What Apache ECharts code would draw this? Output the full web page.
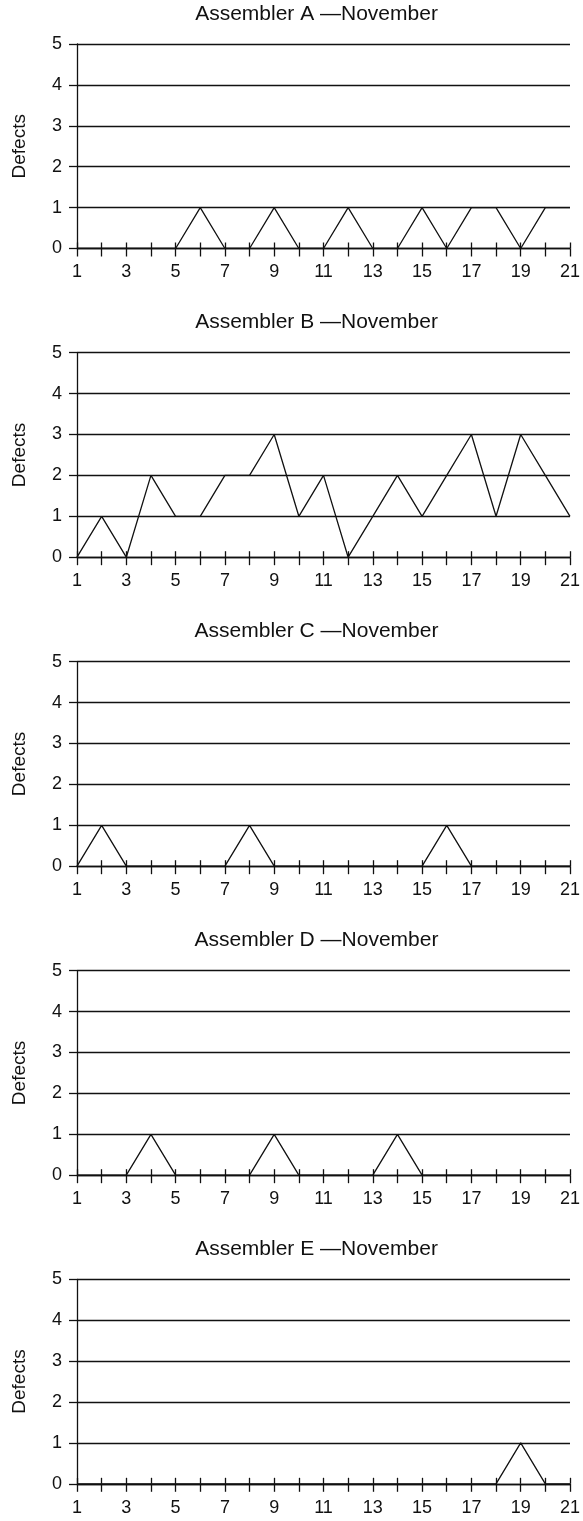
<!DOCTYPE html>
<html>
<head>
<meta charset="utf-8">
<script src="https://cdn.jsdelivr.net/npm/echarts@6/dist/echarts.min.js"></script>
<style>
html,body{margin:0;padding:0;background:#fff;}
#chart{width:583px;height:1521px;}
</style>
</head>
<body>
<div id="chart"></div>
<script>
const days = [1,2,3,4,5,6,7,8,9,10,11,12,13,14,15,16,17,18,19,20,21];
const titles = ["Assembler A \u2014November","Assembler B \u2014November","Assembler C \u2014November","Assembler D \u2014November","Assembler E \u2014November"];
const defectsA = [0,0,0,0,0,1,0,0,1,0,0,1,0,0,1,0,1,1,0,1,1];
const defectsB = [0,1,0,2,1,1,2,2,3,1,2,0,1,2,1,2,3,1,3,2,1];
const defectsC = [0,1,0,0,0,0,0,1,0,0,0,0,0,0,0,1,0,0,0,0,0];
const defectsD = [0,0,0,1,0,0,0,0,1,0,0,0,0,1,0,0,0,0,0,0,0];
const defectsE = [0,0,0,0,0,0,0,0,0,0,0,0,0,0,0,0,0,0,1,0,0];
const yTicks = [0,1,2,3,4,5];
const allSeries = [defectsA,defectsB,defectsC,defectsD,defectsE];

const FONT = '"Liberation Sans", Arial, Helvetica, sans-serif';
const INK = '#111';
const gridTops = [44, 352.7, 661.7, 970.7, 1279.3];
const plotH = 204.5;
const plotL = 77, plotR = 10;

const option = {
  animation:false,
  backgroundColor:'#fff',
  title: titles.map((t,i)=>({
    text:t, left:316.5, top:gridTops[i]-40.5, textAlign:'center', padding:0,
    textStyle:{fontFamily:FONT,fontSize:21,fontWeight:'normal',color:INK}
  })),
  grid: gridTops.map(t=>({left:plotL,right:plotR,top:t,height:plotH,containLabel:false})),
  xAxis: [],
  yAxis: [],
  series: []
};

gridTops.forEach((t,i)=>{
  option.xAxis.push({
    type:'value', gridIndex:i, position:'bottom', min:days[0], max:days[days.length-1], interval:1,
    axisLine:{show:true,onZero:false,lineStyle:{color:INK,width:1.3}},
    axisTick:{show:true,inside:false,length:8,lineStyle:{color:INK,width:1.3}},
    axisLabel:{show:true,margin:15,fontFamily:FONT,fontSize:18,color:INK,
      formatter:v=> (v%2===1 ? String(v) : '')},
    splitLine:{show:false}
  });
  option.xAxis.push({
    type:'value', gridIndex:i, position:'bottom', min:days[0], max:days[days.length-1], interval:1,
    axisLine:{show:false},
    axisTick:{show:true,inside:true,length:6,lineStyle:{color:INK,width:1.3}},
    axisLabel:{show:false},
    splitLine:{show:false}
  });
  option.yAxis.push({
    type:'value', gridIndex:i, min:yTicks[0], max:yTicks[yTicks.length-1], interval:1,
    name:'Defects', nameLocation:'middle', nameGap:47.5, nameRotate:90,
    nameTextStyle:{fontFamily:FONT,fontSize:19,color:INK},
    axisLine:{show:true,lineStyle:{color:INK,width:1.3}},
    axisTick:{show:true,length:8,lineStyle:{color:INK,width:1.3}},
    axisLabel:{margin:15,fontFamily:FONT,fontSize:18,color:INK},
    splitLine:{show:true,lineStyle:{color:INK,width:1.3}}
  });
  option.series.push({
    type:'line', xAxisIndex:i*2, yAxisIndex:i, symbol:'none',
    lineStyle:{color:INK,width:1.3},
    data: days.map((d,k)=>[d, allSeries[i][k]]),
    z:5
  });
});

const chart = echarts.init(document.getElementById('chart'),null,{renderer:'canvas'});
chart.setOption(option);
</script>
</body>
</html>
